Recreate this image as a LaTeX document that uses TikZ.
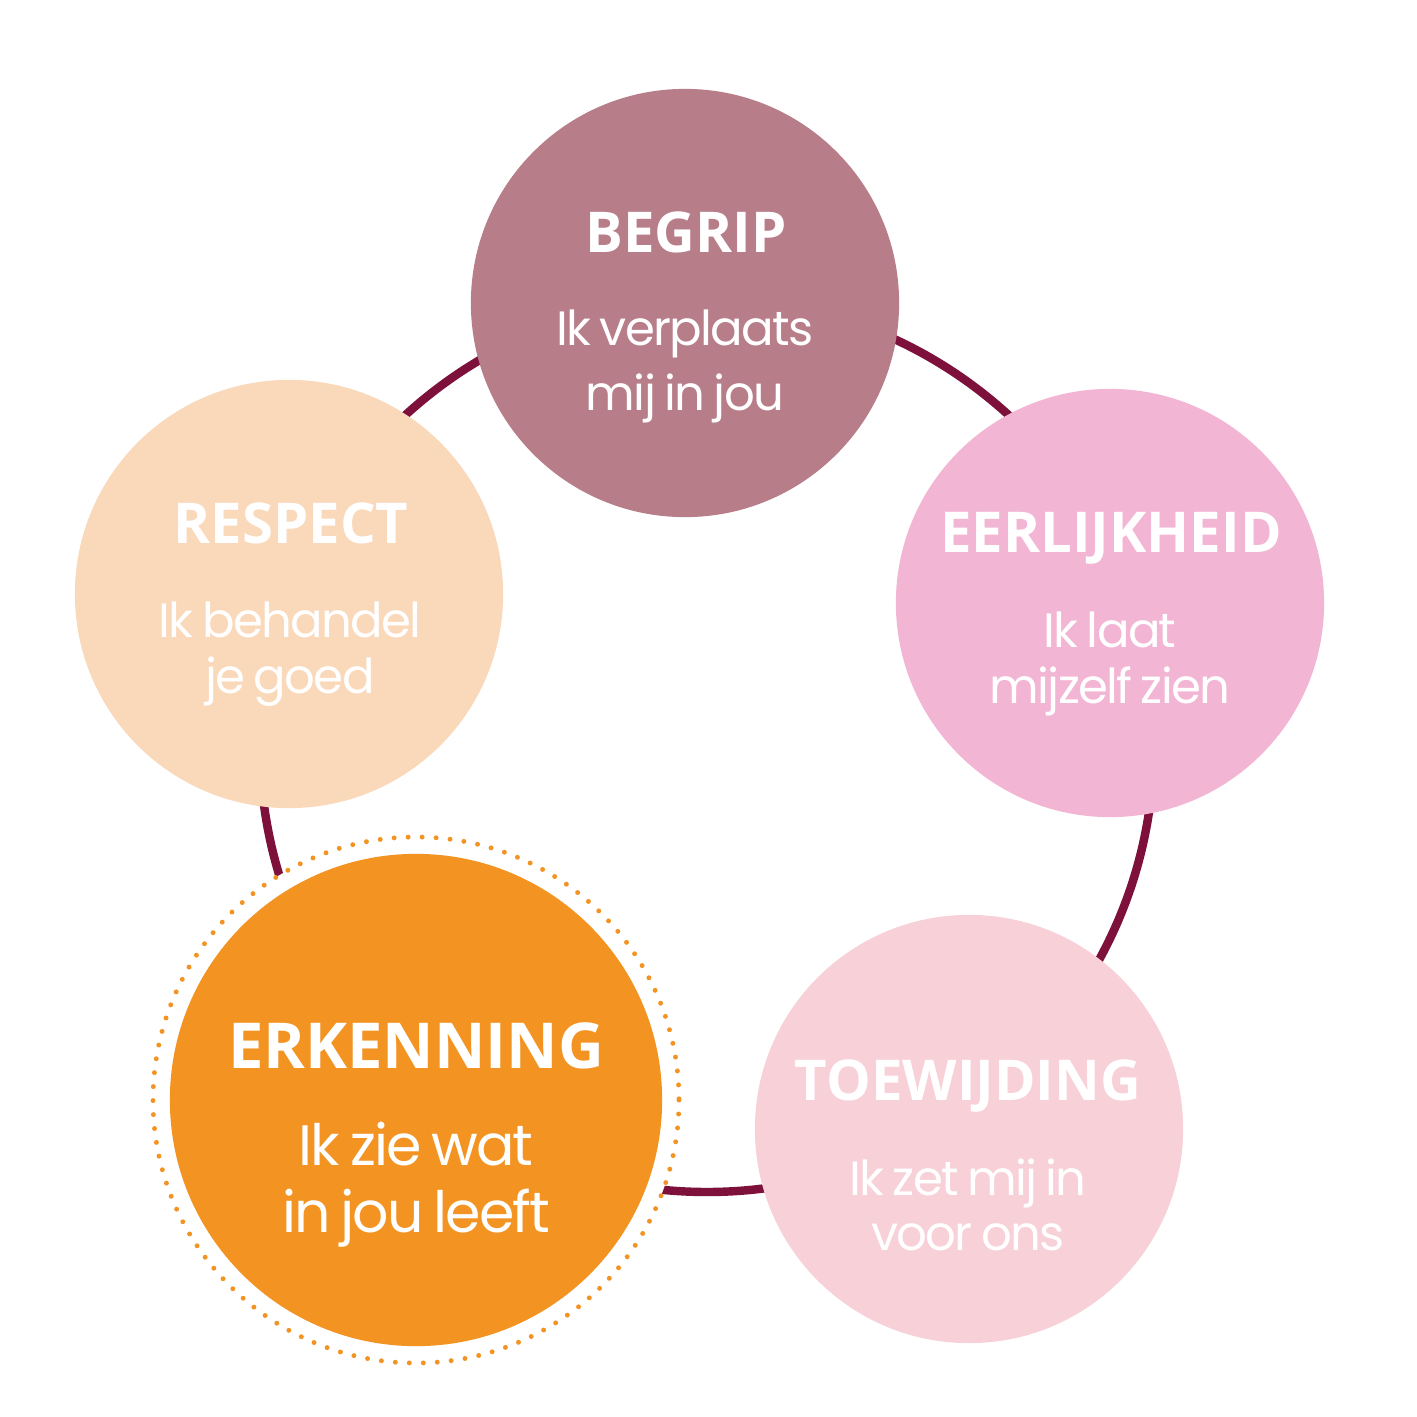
\documentclass[tikz,border=0pt]{standalone}
\usepackage{fontspec}
\setmainfont{Poppins}[LetterSpace=-3.5,WordSpace=0.75]
\newfontfamily\titlefont{Open Sans}
\usetikzlibrary{positioning}

\definecolor{ringred}{RGB}{125,17,60}
\definecolor{begripc}{RGB}{183,125,137}
\definecolor{eerlijkc}{RGB}{243,181,212}
\definecolor{toewijdc}{RGB}{248,208,216}
\definecolor{respectc}{RGB}{250,216,186}
\definecolor{erkenc}{RGB}{242,147,34}

\begin{document}
\begin{tikzpicture}[
    x=0.01cm,y=-0.01cm,
    bol/.style={circle,inner sep=0pt,minimum size=4.28cm},
    kop/.style={anchor=base,text=white,font=\titlefont\bfseries\fontsize{16}{18}\selectfont},
    zin/.style={anchor=base,text=white,font=\fontsize{13.7}{16}\selectfont}
]
\fill[white] (0,0) rectangle (1417,1417);

% ring behind the circles
\coordinate (ringmid) at (707,745);
\draw[ringred,line width=2.4pt] (ringmid) circle[radius=447];

% dotted halo round erkenning
\draw[erkenc,fill=white,line width=1.4pt,line cap=round,dash pattern=on 0pt off 3.98pt]
    (416,1100) circle[radius=263];

\node[bol,fill=begripc] (begrip) at (685,303) {};
\node[bol,fill=eerlijkc] (eerlijk) at (1110,603) {};
\node[bol,fill=toewijdc] (toewijd) at (969,1129) {};
\node[bol,fill=respectc] (respect) at (289,594) {};
\node[bol,fill=erkenc,minimum size=4.92cm] (erken) at (416,1100) {};

\node[kop] (begrip-t) at (686,252) {BEGRIP};
\node[zin] (begrip-a) at (685,345) {Ik verplaats};
\node[zin] (begrip-b) at (685,410) {mij in jou};

\node[kop] (eerlijk-t) at (1111,552) {EERLIJKHEID};
\node[zin] (eerlijk-a) at (1110,647) {Ik laat};
\node[zin] (eerlijk-b) at (1110,703) {mijzelf zien};

\node[kop] (toewijd-t) at (968,1100) {TOEWIJDING};
\node[zin] (toewijd-a) at (968,1195) {Ik zet mij in};
\node[zin] (toewijd-b) at (968,1250) {voor ons};

\node[kop] (respect-t) at (291,543) {RESPECT};
\node[zin] (respect-a) at (290,637) {Ik behandel};
\node[zin] (respect-b) at (290,693) {je goed};

\node[kop,font=\titlefont\bfseries\fontsize{18}{21}\selectfont] (erken-t) at (416,1068) {ERKENNING};
\node[zin,font=\fontsize{16.2}{19}\selectfont] (erken-a) at (416,1165) {Ik zie wat};
\node[zin,font=\fontsize{16.2}{19}\selectfont] (erken-b) at (416,1232) {in jou leeft};
\end{tikzpicture}
\end{document}
